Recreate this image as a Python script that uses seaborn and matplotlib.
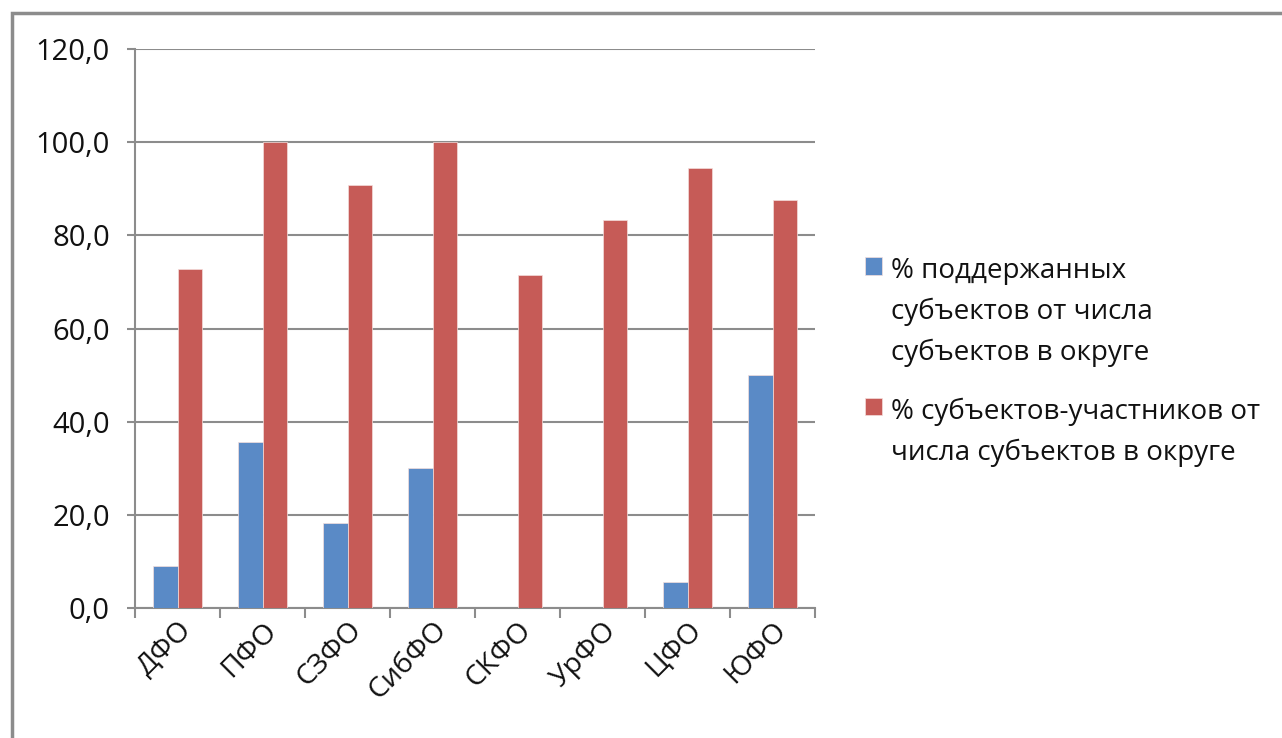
import matplotlib
matplotlib.use("Agg")
import matplotlib.pyplot as plt
import matplotlib.ticker as mticker
from matplotlib.patches import Rectangle
import seaborn as sns
import pandas as pd

# data
districts = ["ДФО", "ПФО", "СЗФО", "СибФО", "СКФО", "УрФО", "ЦФО", "ЮФО"]
supported = [9.1, 35.7, 18.2, 30.0, 0.0, 0.0, 5.6, 50.0]
participants = [72.7, 100.0, 90.9, 100.0, 71.4, 83.3, 94.4, 87.5]
series_names = ["% поддержанных\nсубъектов от числа\nсубъектов в округе",
                "% субъектов-участников от\nчисла субъектов в округе"]
colors = ["#5A8AC6", "#C65B57"]

df = pd.DataFrame({
    "district": districts * 2,
    "value": supported + participants,
    "series": [series_names[0]] * len(districts) + [series_names[1]] * len(districts),
})

sns.set_theme(style="white")
plt.rcParams["font.family"] = ["Open Sans", "DejaVu Sans"]

W, H = 1282, 738
fig = plt.figure(figsize=(W / 100, H / 100), dpi=100)
ax = fig.add_axes([135 / W, 1 - 608 / H, (815 - 135) / W, (608 - 49) / H])

sns.barplot(data=df, x="district", y="value", hue="series", palette=colors,
            saturation=1, width=0.57, gap=0, edgecolor="#F4DEDC", linewidth=0.5,
            order=districts, hue_order=series_names, ax=ax, zorder=3)

grey = "#8C8C8C"
ax.set_ylim(0, 120)
ax.set_xlim(-0.5, len(districts) - 0.5)
ax.yaxis.set_major_locator(mticker.MultipleLocator(20))
ax.yaxis.set_major_formatter(mticker.FuncFormatter(lambda v, p: f"{v:.1f}".replace(".", ",")))
ax.grid(axis="y", color=grey, linewidth=1.5, zorder=0)
ax.set_axisbelow(True)

for s in ["top", "right"]:
    ax.spines[s].set_visible(False)
for s in ["left", "bottom"]:
    ax.spines[s].set_color(grey)
    ax.spines[s].set_linewidth(1.5)

# Excel style: x ticks between categories, labels at centres
ax.set_xticks([i - 0.5 for i in range(len(districts) + 1)], minor=False)
ax.set_xticklabels([])
ax.set_xticks(range(len(districts)), minor=True)
ax.set_xticklabels(districts, minor=True, rotation=45, ha="right",
                   rotation_mode="anchor", fontsize=20.5, color="#111111")
ax.tick_params(axis="x", which="major", direction="out", length=7, width=1.5, color=grey)
ax.tick_params(axis="x", which="minor", length=0, pad=6)
ax.tick_params(axis="y", direction="out", length=6, width=1.5, color=grey,
               labelsize=21, labelcolor="#111111", pad=12)
ax.tick_params(left=True, bottom=True)
ax.set_xlabel("")
ax.set_ylabel("")

leg = ax.legend(loc="center left", bbox_to_anchor=(851 / W, 1 - 362 / H),
                bbox_transform=fig.transFigure, frameon=False, fontsize=20,
                handlelength=0.6, handleheight=0.6, handletextpad=0.35,
                labelspacing=1.1, labelcolor="#111111", borderpad=0)
for t in leg.get_texts():
    t.set_linespacing(1.6)
# marker next to the first text line, as in Excel
for col in leg._legend_handle_box.get_children():
    for row in col.get_children():
        row.align = "top"

# outer chart frame
fig.patches.append(Rectangle((12 / W, -0.1), 1.2, (1 - 13 / H) + 0.1,
                             transform=fig.transFigure, fill=False,
                             edgecolor="#8C8C8C", linewidth=2.5, zorder=0))

fig.savefig("out.png", dpi=100)
